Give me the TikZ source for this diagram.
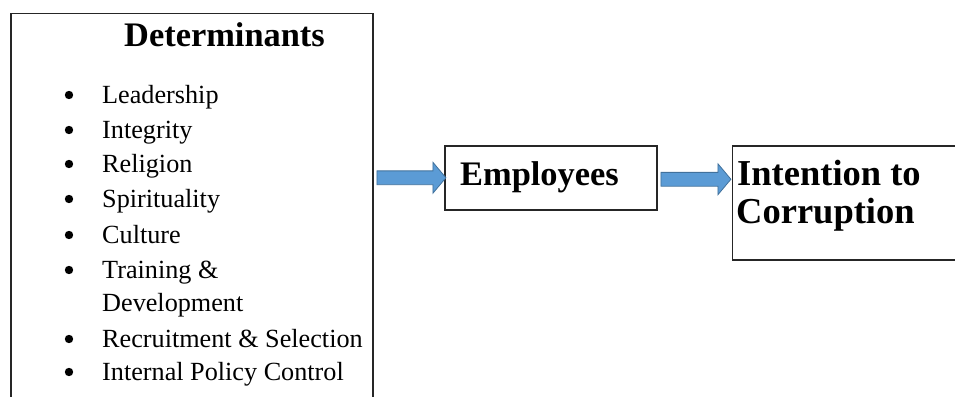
\documentclass[tikz,border=0pt]{standalone}
\usepackage{fontspec}
\setmainfont{Liberation Serif}
\usetikzlibrary{shapes.arrows}
\definecolor{arrowfill}{HTML}{5B9BD5}
\definecolor{arrowline}{HTML}{41719C}
\definecolor{boxline}{HTML}{262626}
\begin{document}
\begin{tikzpicture}[x=1pt,y=-1pt,
  box/.style={draw=boxline, line width=1.5pt, fill=white, inner sep=0pt, anchor=north west},
  item/.style={anchor=base west, inner sep=0pt, font=\rmfamily\fontsize{26.2}{30}\selectfont},
  heading/.style={anchor=base west, inner sep=0pt, font=\rmfamily\bfseries\fontsize{34.4}{38}\selectfont},
  flow/.style={single arrow, draw=arrowline, fill=arrowfill, line width=0.8pt,
    minimum width=0pt, single arrow head extend=8.5pt, single arrow tip angle=100,
    inner xsep=0pt, inner ysep=6.5pt, anchor=tail}
]
\useasboundingbox (0,0) rectangle (955,396);
\clip (0,0) rectangle (955,396);
% boxes
\node[box, minimum width=362pt, minimum height=420pt] (det) at (10,13) {};
\node[box, minimum width=212pt, minimum height=64pt] (emp) at (444,145) {};
\node[box, minimum width=240pt, minimum height=114pt] (int) at (731.5,145) {};
% arrows
\node[flow, minimum height=69pt] (a1) at ([xshift=3pt]det.east |- emp.west) {};
\node[flow, minimum height=70pt] (a2) at ([xshift=3pt,yshift=-1.5pt]emp.east) {};
% texts
\node[heading] (title) at (124,47) {Determinants};
\node[item] (i1) at (102,103) {Leadership};
\node[item] (i2) at (102,138) {Integrity};
\node[item] (i3) at (102,172) {Religion};
\node[item] (i4) at (102,207) {Spirituality};
\node[item] (i5) at (102,243) {Culture};
\node[item] (i6) at (102,278) {Training \&};
\node[item] (i6b) at (102,311) {Development};
\node[item] (i7) at (102,347) {Recruitment \& Selection};
\node[item] (i8) at (102,380) {Internal Policy Control};
\foreach \y in {103,138,172,207,243,278,347,380}
  \fill (69,\y-8) circle (4.2);
\node[heading] (emptext) at (460,185) {Employees};
\node[heading, font=\rmfamily\bfseries\fontsize{36.5}{40}\selectfont] (int1) at (737,185) {Intention to};
\node[heading, font=\rmfamily\bfseries\fontsize{36.5}{40}\selectfont] (int2) at (736,223) {Corruption};
\end{tikzpicture}
\end{document}
